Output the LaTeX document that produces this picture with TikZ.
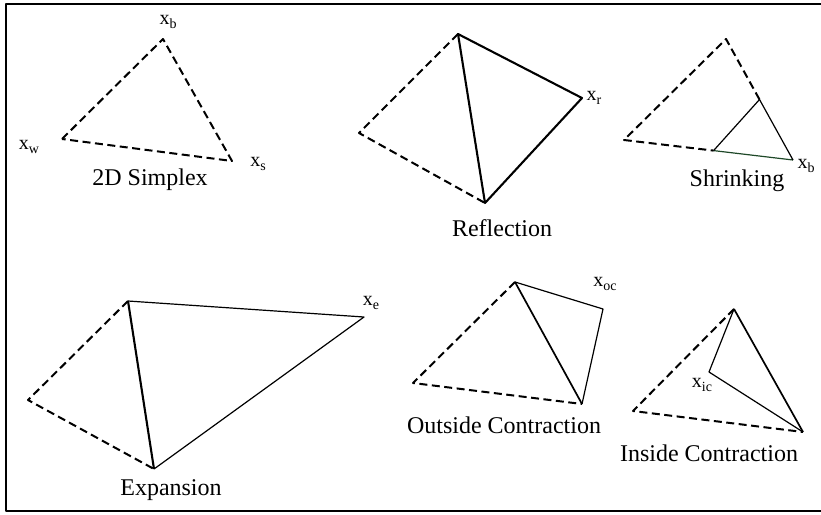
\documentclass[tikz,border=0pt]{standalone}
\usepackage{fontspec}
\setmainfont{Liberation Serif}
\usetikzlibrary{calc}
\definecolor{shrinkgreen}{RGB}{30,72,40}
\newcommand{\vx}[1]{x\raisebox{-0.35ex}{\fontsize{14}{16}\selectfont #1}}
\tikzset{
  old/.style={line width=2pt,dash pattern=on 8pt off 4.5pt},
  thin/.style={line width=1.2pt},
  bold/.style={line width=2.1pt},
  caption/.style={font=\fontsize{24}{27}\selectfont,inner sep=0pt},
  vlabel/.style={font=\fontsize{20}{22}\selectfont,inner sep=0pt},
}
\begin{document}
\begin{tikzpicture}[x=1pt,y=-1pt,line join=round]
  \useasboundingbox (0,0) rectangle (821,514);
  \draw[line width=2pt] (823,4) -- (6,4) -- (6,511) -- (823,511);

  % 2D simplex
  \coordinate (sb) at (163,39);
  \coordinate (sw) at (62,139);
  \coordinate (ss) at (232,161);
  \draw[old] (sw) -- (sb) -- (ss) -- cycle;
  \node[vlabel] (lsb) at (168,22) {\vx{b}};
  \node[vlabel] (lsw) at (29,147) {\vx{w}};
  \node[vlabel] (lss) at (258,164) {\vx{s}};
  \node[caption] (csimplex) at (150,180) {2D Simplex};

  % reflection
  \coordinate (rt) at (458,34);
  \coordinate (rl) at (359,133);
  \coordinate (rb) at (485,203);
  \coordinate (rr) at (582,98);
  \draw[old] (rt) -- (rl) -- (rb);
  \draw[bold] (rb) -- (rt) -- (rr) -- cycle;
  \node[vlabel] (lrr) at (594,98) {\vx{r}};
  \node[caption] (creflection) at (502,228) {Reflection};

  % shrinking
  \coordinate (ht) at (726,39);
  \coordinate (hl) at (624,140);
  \coordinate (hb) at (793,160);
  \coordinate (hm) at ($(ht)!0.5!(hb)$);
  \coordinate (hn) at ($(hl)!0.53!(hb)$);
  \draw[old] (hm) -- (ht) -- (hl) -- (hn);
  \draw[thin,shrinkgreen] (hn) -- (hb);
  \draw[thin] (hb) -- (hm) -- (hn);
  \node[vlabel] (lhb) at (806,166) {\vx{b}};
  \node[caption] (cshrinking) at (737,181) {Shrinking};

  % expansion
  \coordinate (et) at (128,301);
  \coordinate (el) at (28,400);
  \coordinate (eb) at (154,469);
  \coordinate (ee) at (364,317);
  \draw[old] (et) -- (el) -- (eb);
  \draw[bold] (eb) -- (et);
  \draw[thin] (et) -- (ee) -- (eb);
  \node[vlabel] (lee) at (371,303) {\vx{e}};
  \node[caption] (cexpansion) at (171,490) {Expansion};

  % outside contraction
  \coordinate (ot) at (515,282);
  \coordinate (ol) at (413,383);
  \coordinate (ob) at (582,404);
  \coordinate (oc) at (603,309);
  \draw[old] (ot) -- (ol) -- (ob);
  \draw[line width=1.7pt] (ob) -- (ot);
  \draw[thin] (ot) -- (oc) -- (ob);
  \node[vlabel] (loc) at (605,284) {\vx{oc}};
  \node[caption] (coutside) at (504,425) {Outside Contraction};

  % inside contraction
  \coordinate (it) at (734,309);
  \coordinate (il) at (633,411);
  \coordinate (ib) at (803,432);
  \coordinate (ic) at (709,372);
  \draw[old] (it) -- (il) -- (ib);
  \draw[line width=1.7pt] (ib) -- (it);
  \draw[thin] (it) -- (ic) -- (ib);
  \node[vlabel] (lic) at (702,385) {\vx{ic}};
  \node[caption] (cinside) at (709,453) {Inside Contraction};
\end{tikzpicture}
\end{document}
